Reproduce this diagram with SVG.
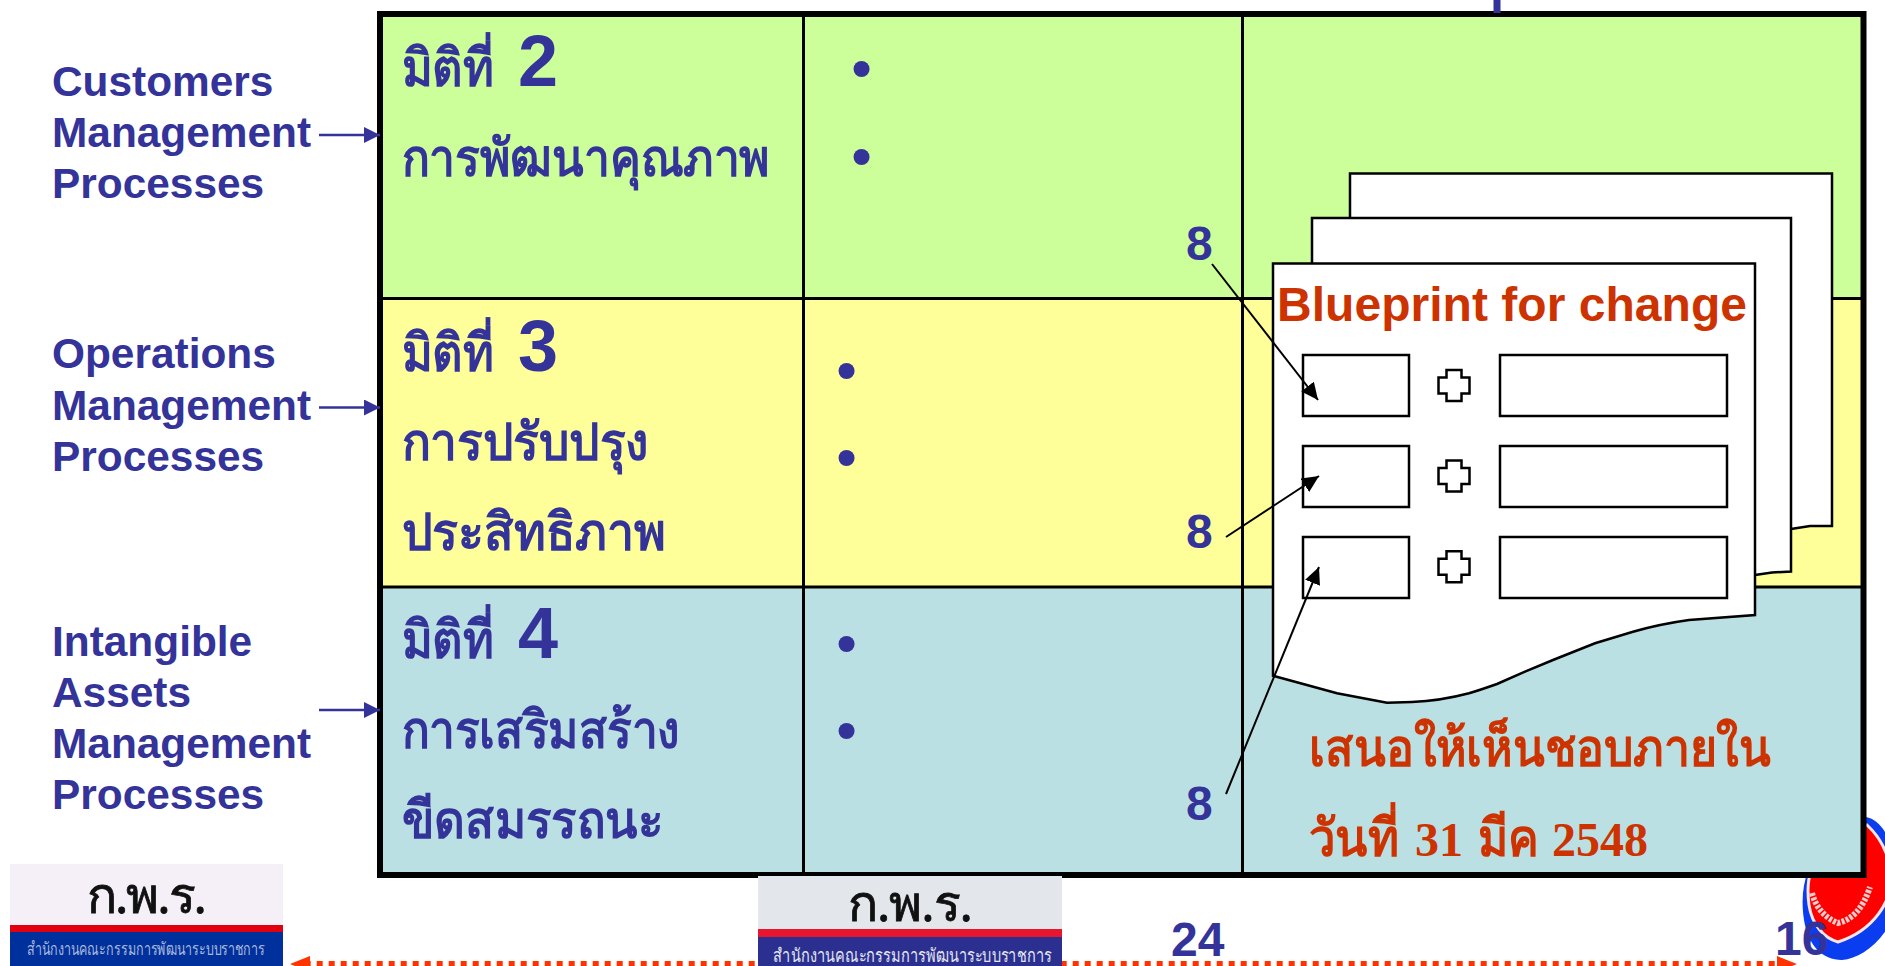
<svg xmlns="http://www.w3.org/2000/svg" width="1885" height="966" viewBox="0 0 1885 966">
<defs>
<style>
.lab{font:bold 42.4px "Liberation Sans",Arial,sans-serif;fill:#333399}
.th{font:bold 52px "Noto Sans",sans-serif;fill:#333399}
.big{font:bold 72px "Liberation Sans",Arial,sans-serif;fill:#333399}
.num{font:bold 48px "Liberation Sans",Arial,sans-serif;fill:#333399}
.bul{font:bold 56px "Liberation Sans",Arial,sans-serif;fill:#333399;text-anchor:middle}
.red{font:bold 52px "Noto Sans",serif;fill:#CC3300}
.dig{font:bold 48px "Liberation Serif",serif;fill:#CC3300}
.bp{font:bold 48px "Liberation Sans",Arial,sans-serif;fill:#CC3300}
.ln{stroke:#000;stroke-width:3;fill:none}
.sheet{fill:#fff;stroke:#000;stroke-width:2.5}
.arr{stroke:#000;stroke-width:2;fill:none;marker-end:url(#hk)}
.blue{stroke:#333399;stroke-width:2.5;fill:none;marker-end:url(#hb)}
.logot{font:400 50px "Noto Sans",sans-serif;fill:#111;stroke:#111;stroke-width:.8}
</style>
<marker id="hk" markerUnits="userSpaceOnUse" markerWidth="18" markerHeight="16" refX="17" refY="8" orient="auto"><path d="M0 0L17 8L0 16z" fill="#000"/></marker>
<marker id="hb" markerUnits="userSpaceOnUse" markerWidth="16" markerHeight="16" refX="16" refY="8" orient="auto"><path d="M0 0L16 8L0 16z" fill="#333399"/></marker>
<marker id="hr" markerUnits="userSpaceOnUse" markerWidth="20" markerHeight="18" refX="0" refY="9" orient="auto-start-reverse"><path d="M0 1L20 9L0 17z" fill="#FF3300"/></marker>
<path id="cross" d="M-7.5 -15.5H7.5V-8H15.5V8H7.5V15.5H-7.5V8H-15.5V-8H-7.5Z" fill="#fff" stroke="#000" stroke-width="2.5"/>
</defs>
<rect width="1885" height="966" fill="#fff"/>

<g id="seal">
<path d="M1866 817C1880 820 1890 835 1895 860L1895 915C1880 945 1860 958 1842 960C1822 960 1808 945 1804 920C1801 900 1803 885 1808 870L1830 830Z" fill="#0A3CF0"/>
<path d="M1867 825C1878 835 1888 850 1892 875C1892 900 1875 930 1838 942C1824 938 1812 925 1809 905C1807 890 1808 880 1812 865L1835 835Z" fill="#FF0000" stroke="#F6E6EA" stroke-width="3"/>
<path d="M1812 893Q1818 915 1838 923Q1860 918 1870 887" fill="none" stroke="#F6CCCC" stroke-width="6" stroke-dasharray="3 1.5"/>
</g>

<g id="cells">
<rect x="380" y="14" width="1483" height="284" fill="#CCFF99"/>
<rect x="380" y="298" width="1483" height="289" fill="#FFFF99"/>
<rect x="380" y="587" width="1483" height="288" fill="#BBE0E3"/>
<path class="ln" d="M380 298.5H1863M380 587H1863M803.5 14V875M1242.5 14V875"/>
<rect x="380" y="14" width="1483.5" height="861" fill="none" stroke="#000" stroke-width="6"/>
</g>

<g id="row-2">
<text class="lab" x="52" y="96">Customers</text>
<text class="lab" x="52" y="147">Management</text>
<text class="lab" x="52" y="198">Processes</text>
<text class="th" x="401.5" y="86"><tspan textLength="92" lengthAdjust="spacingAndGlyphs">มิติที่</tspan><tspan class="big" x="498"> 2</tspan></text>
<text class="th" x="401.5" y="176" textLength="368" lengthAdjust="spacingAndGlyphs">การพัฒนาคุณภาพ</text>
<text class="bul" x="861.5" y="86.6">•</text>
<text class="bul" x="861.5" y="174.6">•</text>
<text class="num" x="1186" y="260">8</text>
</g>

<g id="row-3">
<text class="lab" x="52" y="368">Operations</text>
<text class="lab" x="52" y="420">Management</text>
<text class="lab" x="52" y="471">Processes</text>
<text class="th" x="401.5" y="371"><tspan textLength="92" lengthAdjust="spacingAndGlyphs">มิติที่</tspan><tspan class="big" x="498"> 3</tspan></text>
<text class="th" x="401.5" y="460" textLength="247" lengthAdjust="spacingAndGlyphs">การปรับปรุง</text>
<text class="th" x="401.5" y="550" textLength="264" lengthAdjust="spacingAndGlyphs">ประสิทธิภาพ</text>
<text class="bul" x="846.5" y="388.6">•</text>
<text class="bul" x="846.5" y="475.6">•</text>
<text class="num" x="1186" y="548">8</text>
</g>

<g id="row-4">
<text class="lab" x="52" y="656">Intangible</text>
<text class="lab" x="52" y="707">Assets</text>
<text class="lab" x="52" y="758">Management</text>
<text class="lab" x="52" y="809">Processes</text>
<text class="th" x="401.5" y="658"><tspan textLength="92" lengthAdjust="spacingAndGlyphs">มิติที่</tspan><tspan class="big" x="498"> 4</tspan></text>
<text class="th" x="401.5" y="748" textLength="278" lengthAdjust="spacingAndGlyphs">การเสริมสร้าง</text>
<text class="th" x="401.5" y="838" textLength="262" lengthAdjust="spacingAndGlyphs">ขีดสมรรถนะ</text>
<text class="bul" x="846.5" y="661.6">•</text>
<text class="bul" x="846.5" y="748.6">•</text>
<text class="num" x="1186" y="820">8</text>
</g>

<g id="blueprint">
<path class="sheet" d="M1350 173.5H1832V526L1810 526L1791 529L1350 560Z"/>
<path class="sheet" d="M1312 218H1791V571.5L1772 572.5L1755 575L1312 600Z"/>
<path class="sheet" d="M1273 263.5H1755V615L1689 620Q1660 624 1633 631.7L1595 643.3L1553 660L1525 671.7L1497 684Q1480 690 1469 693.3Q1440 701 1412 702L1387 702.7L1337 693.3L1273 675.7Z"/>
<text class="bp" x="1277" y="321" textLength="470" lengthAdjust="spacing">Blueprint for change</text>
<g fill="#fff" stroke="#000" stroke-width="2.5">
<rect x="1303" y="355" width="106" height="61"/>
<rect x="1500" y="355" width="227" height="61"/>
<rect x="1303" y="446" width="106" height="61"/>
<rect x="1500" y="446" width="227" height="61"/>
<rect x="1303" y="537" width="106" height="61"/>
<rect x="1500" y="537" width="227" height="61"/>
</g>
<use href="#cross" x="1454" y="385.5"/>
<use href="#cross" x="1454" y="476"/>
<use href="#cross" x="1454" y="566.7"/>
</g>

<g id="deadline">
<text class="red" x="1309" y="766" textLength="462" lengthAdjust="spacingAndGlyphs">เสนอให้เห็นชอบภายใน</text>
<text class="red" x="1309" y="856"><tspan textLength="90" lengthAdjust="spacingAndGlyphs">วันที่</tspan><tspan class="dig" x="1403"> 31</tspan><tspan x="1466" textLength="73" lengthAdjust="spacingAndGlyphs"> มีค</tspan><tspan class="dig" x="1540"> 2548</tspan></text>
</g>

<g id="connectors">
<line class="blue" x1="319" y1="135" x2="380" y2="135"/>
<line class="blue" x1="319" y1="407.5" x2="380" y2="407.5"/>
<line class="blue" x1="319" y1="710" x2="380" y2="710"/>
<line x1="1497" y1="0" x2="1497" y2="13" stroke="#333399" stroke-width="7"/>
<line class="arr" x1="1212" y1="264" x2="1318" y2="400"/>
<line class="arr" x1="1226" y1="537" x2="1319" y2="476"/>
<line class="arr" x1="1226" y1="794" x2="1319" y2="567"/>
<path d="M310 964H1777" fill="none" stroke="#FF3300" stroke-width="6" stroke-dasharray="6 6" stroke-dashoffset="5.3" marker-start="url(#hr)" marker-end="url(#hr)"/>
</g>

<g id="logo-left">
<rect x="10" y="864" width="273" height="102" fill="#F5F0F8"/>
<rect x="10" y="925" width="273" height="7" fill="#E00010"/>
<rect x="10" y="932" width="273" height="34" fill="#00309C"/>
<text class="logot" x="87" y="913" textLength="120">ก.พ.ร.</text>
<text x="27" y="955" textLength="238" lengthAdjust="spacingAndGlyphs" font-family="Noto Sans,sans-serif" font-size="18" fill="#A9B8DC">สำนักงานคณะกรรมการพัฒนาระบบราชการ</text>
</g>

<g id="logo-center">
<rect x="758" y="876" width="304" height="90" fill="#E3E7EC"/>
<rect x="758" y="929" width="304" height="8" fill="#E8152F"/>
<rect x="758" y="937" width="304" height="29" fill="#2B3090"/>
<text class="logot" x="848" y="921" textLength="125">ก.พ.ร.</text>
<text x="773" y="961.5" textLength="279" lengthAdjust="spacingAndGlyphs" font-family="Noto Sans,sans-serif" font-size="19" font-weight="500" fill="#E4E6F2">สำนักงานคณะกรรมการพัฒนาระบบราชการ</text>
</g>

<g id="page-numbers">
<text class="num" x="1171" y="956">24</text>
<text class="num" x="1775" y="955">16</text>
</g>
</svg>
